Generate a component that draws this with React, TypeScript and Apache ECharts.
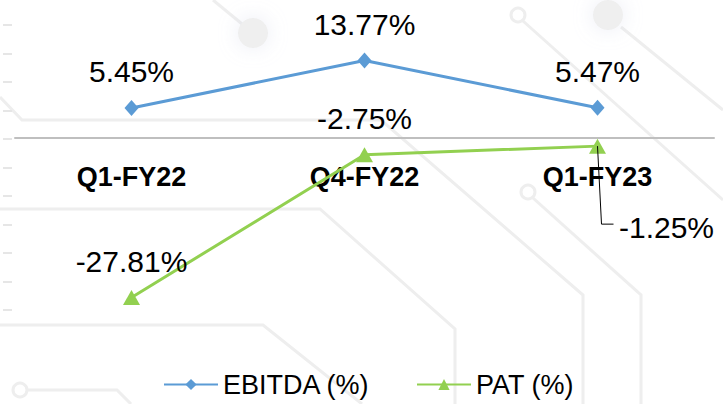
import React, { useEffect, useRef } from "react";
import * as echarts from "echarts";

const categories = ["Q1-FY22", "Q4-FY22", "Q1-FY23"];
const ebitda = [5.45, 13.77, 5.47];
const pat = [-27.81, -2.75, -1.25];
const seriesNames = ["EBITDA (%)", "PAT (%)"];

const FONT = "'Liberation Sans', Arial, sans-serif";
const BG = "#eeeeee";

export default function App() {
  const ref = useRef<HTMLDivElement>(null);
  useEffect(() => {
    if (!ref.current) return;
    const chart = echarts.init(ref.current, null, { renderer: "svg" });
    const bgLine = (points: number[][]) => ({
      type: "polyline",
      z: -10,
      silent: true,
      shape: { points },
      style: { stroke: BG, lineWidth: 3, fill: null },
    });
    const ring = (cx: number, cy: number) => ({
      type: "circle",
      z: -10,
      silent: true,
      shape: { cx, cy, r: 7 },
      style: { stroke: BG, lineWidth: 3, fill: "#fff" },
    });
    const dot = (cx: number, cy: number) => ({
      type: "circle",
      z: -10,
      silent: true,
      shape: { cx, cy, r: 15 },
      style: { fill: "#efefef", shadowBlur: 20, shadowColor: "rgba(200,205,225,0.35)" },
    });
    const background = [
      bgLine([[213, 0], [253, 33]]),
      dot(253, 33),
      bgLine([[0, 97], [22, 120], [381, 120], [583, 295], [583, 404]]),
      bgLine([[0, 209], [320, 209], [455, 329], [455, 404]]),
      bgLine([[0, 325], [263, 325], [362, 404]]),
      bgLine([[27, 390], [117, 390], [131, 404]]),
      ring(20, 390),
      bgLine([[523, 21], [723, 200]]),
      ring(518, 15),
      bgLine([[621, 27], [723, 110]]),
      dot(608, 15),
      bgLine([[533, 198], [641, 295], [641, 404]]),
      ring(528, 192),
    ];
    chart.setOption({
      animation: false,
      backgroundColor: "#ffffff",
      textStyle: { fontFamily: FONT },
      grid: { left: 15, right: 9, top: 25, bottom: 94, containLabel: false },
      legend: {
        data: seriesNames,
        left: 163,
        top: 371,
        padding: 0,
        itemWidth: 54,
        itemHeight: 14,
        itemGap: 46,
        textStyle: { fontSize: 27, color: "#000", fontFamily: FONT },
      },
      xAxis: {
        type: "category",
        data: categories,
        offset: -172,
        axisLine: { onZero: false, lineStyle: { color: "#bfbfbf", width: 2 } },
        axisTick: { show: false },
        axisLabel: {
          margin: 25,
          fontSize: 27,
          fontWeight: "bold",
          color: "#000",
          fontFamily: FONT,
        },
      },
      yAxis: {
        type: "value",
        min: -30,
        max: 20,
        interval: 5,
        offset: 3,
        axisLine: { show: false },
        axisLabel: { show: false },
        splitLine: { show: false },
        axisTick: { show: true, length: 9, lineStyle: { color: "#e6e6e6", width: 2 } },
      },
      graphic: background,
      series: [
        {
          name: seriesNames[0],
          type: "line",
          data: ebitda,
          symbol: "diamond",
          symbolSize: [14, 16],
          itemStyle: { color: "#5b9bd5" },
          lineStyle: { color: "#5b9bd5", width: 3 },
          label: {
            show: true,
            position: "inside",
            offset: [0, -36],
            fontSize: 30,
            color: "#000",
            fontFamily: FONT,
            formatter: (p: any) => p.value.toFixed(2) + "%",
          },
        },
        {
          name: seriesNames[1],
          type: "line",
          data: pat.map((v, i) =>
            i === 2
              ? { value: v, label: { offset: [69, 81] } }
              : { value: v }
          ),
          symbol: "triangle",
          symbolSize: [17, 15],
          itemStyle: { color: "#92d050" },
          lineStyle: { color: "#92d050", width: 3 },
          label: {
            show: true,
            position: "inside",
            offset: [0, -36],
            fontSize: 30,
            color: "#000",
            fontFamily: FONT,
            formatter: (p: any) => p.value.toFixed(2) + "%",
          },
        },
      ],
    });
    const p = chart.convertToPixel({ seriesIndex: 1 }, [2, pat[2]]) as number[];
    if (p) {
      chart.setOption({
        graphic: [
          ...background,
          {
            type: "polyline",
            z: 100,
            silent: true,
            shape: { points: [[p[0], p[1]], [p[0] + 4, p[1] + 78], [p[0] + 16, p[1] + 78]] },
            style: { stroke: "#000", lineWidth: 1, fill: null },
          },
        ],
      });
    }
    return () => chart.dispose();
  }, []);
  return <div ref={ref} style={{ width: 723, height: 404, position: "absolute", left: 0, top: 0 }} />;
}
